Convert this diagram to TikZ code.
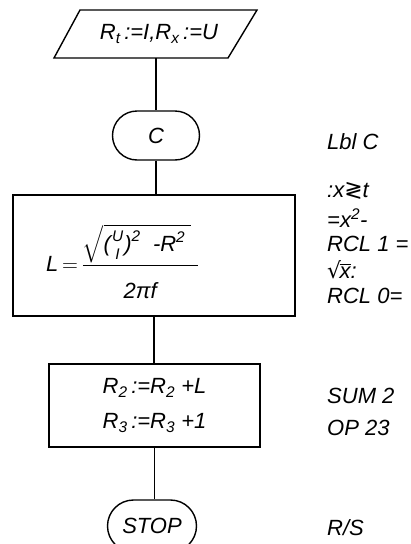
\RequirePackage{fix-cm}
\documentclass[tikz,border=0pt]{standalone}
\usepackage{amsmath}
\usepackage{fontspec}
\setmainfont{Liberation Sans}
\newfontfamily\symfont{DejaVu Sans}
\usetikzlibrary{shapes.misc}
\newcommand\tv[1]{\text{\itshape #1}}
\begin{document}
\begin{tikzpicture}[x=1pt,y=-1pt,
  every node/.style={font=\fontsize{22}{26}\selectfont\itshape, inner sep=0pt},
  flow/.style={line width=1.4pt},
  boxnode/.style={draw, line width=1.4pt, rectangle},
  term/.style={draw, line width=1.4pt, rounded rectangle, minimum width=87pt, minimum height=49pt},
  note/.style={anchor=west}]
\useasboundingbox (0,0) rectangle (411,544);
\clip (0,0) rectangle (411,544);

% input / output parallelogram
\node (in) at (159,34) {R\textsubscript{t}\,:=I,R\textsubscript{x}\,:=U};
\draw[flow] (80,10) -- (257,10) -- (228,58) -- (54,58) -- cycle;
\coordinate (inb) at (156,58);

\node[term] (c) at (156,135.5) {C};

\node[boxnode, minimum width=282pt, minimum height=121pt] (r1) at (154,255.5) {};
\node[anchor=base west] (f) at (46,271)
  {$\tv{L}\,{=}\,\dfrac{\sqrt{\tv{(}\genfrac{}{}{0pt}{1}{\tv{U}}{\tv{I}}\tv{)}^{\tv{2}}\;\;\tv{-}\tv{R}^{\tv{2}}\;}\;}{\rule{0pt}{30pt}\tv{2πf}}$};

\node[boxnode, minimum width=211pt, minimum height=83pt, align=left,
      font=\fontsize{22}{35}\selectfont\itshape] (r2) at (154.5,405.5)
  {R\textsubscript{2}\,:=R\textsubscript{2} +L\\R\textsubscript{3}\,:=R\textsubscript{3} +1};

\node[term, minimum width=89pt, minimum height=52pt] (s) at (152,526) {STOP};

% connectors
\draw[flow] (inb) -- (inb |- c.north);
\draw[flow] (c.south) -- (c.south |- r1.north);
\draw[flow] (r1.south) -- (r1.south |- r2.north);
\draw[flow] (r2.south) -- (r2.south |- s.north);

% program listing
\node[note] (n1) at (327,142) {Lbl C};
\node[note] (n2) at (327,191) {:x{\symfont\upshape ≷}t};
\node[note] (n3) at (327,218) {=x\textsuperscript{2}-};
\node[note] (n4) at (327,244) {RCL 1 =};
\node[note] (n5) at (327,270) {{\symfont\upshape √}\kern-1.5pt$\overline{\tv{x}}$:};
\node[note] (n6) at (327,296) {RCL 0=};
\node[note] (n7) at (327,396) {SUM 2};
\node[note] (n8) at (327,428) {OP 23};
\node[note] (n9) at (327,528) {R/S};
\end{tikzpicture}
\end{document}
